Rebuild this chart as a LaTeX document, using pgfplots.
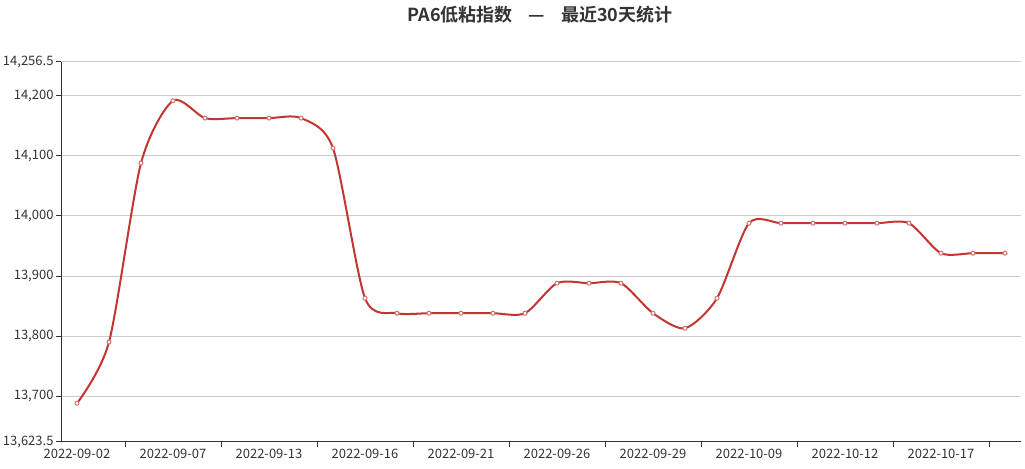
\documentclass[border=0pt]{standalone}
\usepackage{pgfplots}
\pgfplotsset{compat=1.18}
\usepackage{fontspec}
\setmainfont{Noto Sans CJK SC}
\newfontfamily\titlefont{Noto Sans CJK SC}[BoldFont={* Bold}]
\definecolor{lineRed}{HTML}{C23531}
\definecolor{txt}{HTML}{333333}
\definecolor{grid}{HTML}{CCCCCC}

\begin{document}
\begin{tikzpicture}[x=1bp,y=1bp]
\useasboundingbox (0,0) rectangle (1025,469);
\node[font=\titlefont\fontsize{18bp}{20bp}\selectfont\bfseries, text=txt]
  at (540,454) {PA6低粘指数\hspace{16bp}—\hspace{16bp}最近30天统计};
\begin{axis}[
  at={(61bp,27bp)}, anchor=south west,
  width=960bp, height=380bp, scale only axis,
  xmin=-0.5, xmax=29.5,
  ymin=13623.5, ymax=14256.5,
  scaled y ticks=false,
  axis lines*=left,
  axis line style={txt, line width=1bp},
  % tick marks between the labelled days
  xtick={1.5,4.5,...,28.5},
  xticklabels={},
  major x tick style={txt, line width=1bp},
  xmajorgrids=false,
  % labels, every third day
  extra x ticks={0,3,...,27},
  extra x tick labels={2022-09-02,2022-09-07,2022-09-13,2022-09-16,2022-09-21,2022-09-26,2022-09-29,2022-10-09,2022-10-12,2022-10-17},
  extra x tick style={grid=none, major tick length=0pt},
  ytick={13623.5,13700,13800,13900,14000,14100,14200,14256.5},
  yticklabels={{13,623.5},{13,700},{13,800},{13,900},{14,000},{14,100},{14,200},{14,256.5}},
  major y tick style={txt, line width=1bp},
  ymajorgrids, major y grid style={grid, line width=1bp},
  tick align=outside, major tick length=5bp,
  tick label style={font=\fontsize{13bp}{15bp}\selectfont, text=txt},
  xticklabel style={yshift=-4bp},
  yticklabel style={xshift=1bp},
  clip=false,
]
\addplot[lineRed, line width=2bp, smooth, tension=0.45,
  mark=*, mark size=2bp, mark options={fill=white, draw=lineRed!70, line width=1bp}]
  table{
x y
0 13688
1 13790
2 14088
3 14192
4 14163
5 14163
6 14163
7 14163
8 14113
9 13863
10 13838
11 13838
12 13838
13 13838
14 13838
15 13888
16 13888
17 13888
18 13838
19 13813
20 13863
21 13988
22 13988
23 13988
24 13988
25 13988
26 13988
27 13938
28 13938
29 13938
};
\end{axis}
\end{tikzpicture}
\end{document}
